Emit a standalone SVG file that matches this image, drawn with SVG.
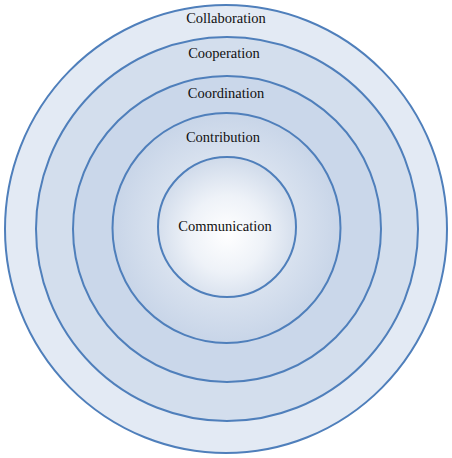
<svg xmlns="http://www.w3.org/2000/svg" width="452" height="458" viewBox="0 0 452 458">
<style>
.ring{stroke:#4f7fbb;stroke-width:2}
text{font-family:"Liberation Serif","DejaVu Serif",serif;font-size:14.5px;fill:#111;text-anchor:middle}
</style>
<defs>
<radialGradient id="g" cx="50%" cy="50%" r="50%">
<stop offset="0" stop-color="#f6f8fc"/>
<stop offset="0.6" stop-color="#d9e2ef"/>
<stop offset="1" stop-color="#c8d5e8"/>
</radialGradient>
<radialGradient id="gInner" cx="50%" cy="55%" r="55%">
<stop offset="0" stop-color="#ffffff"/>
<stop offset="0.5" stop-color="#eef2f8"/>
<stop offset="1" stop-color="#cfdaea"/>
</radialGradient>
</defs>
<g id="collaboration">
<ellipse class="ring" cx="226" cy="229" rx="221" ry="224" fill="#e3eaf4"/>
<text x="226" y="23">Collaboration</text>
</g>
<g id="cooperation">
<ellipse class="ring" cx="227" cy="229" rx="191" ry="192" fill="#d3deed"/>
<text x="224" y="58">Cooperation</text>
</g>
<g id="coordination">
<ellipse class="ring" cx="227" cy="229" rx="154" ry="153" fill="#cad7ea"/>
<text x="226" y="98">Coordination</text>
</g>
<g id="contribution">
<ellipse class="ring" cx="226.5" cy="228" rx="114" ry="115" fill="url(#g)"/>
<text x="223" y="142">Contribution</text>
</g>
<g id="communication">
<ellipse class="ring" cx="227" cy="227" rx="69" ry="70" fill="url(#gInner)"/>
<text x="225" y="231">Communication</text>
</g>
</svg>
